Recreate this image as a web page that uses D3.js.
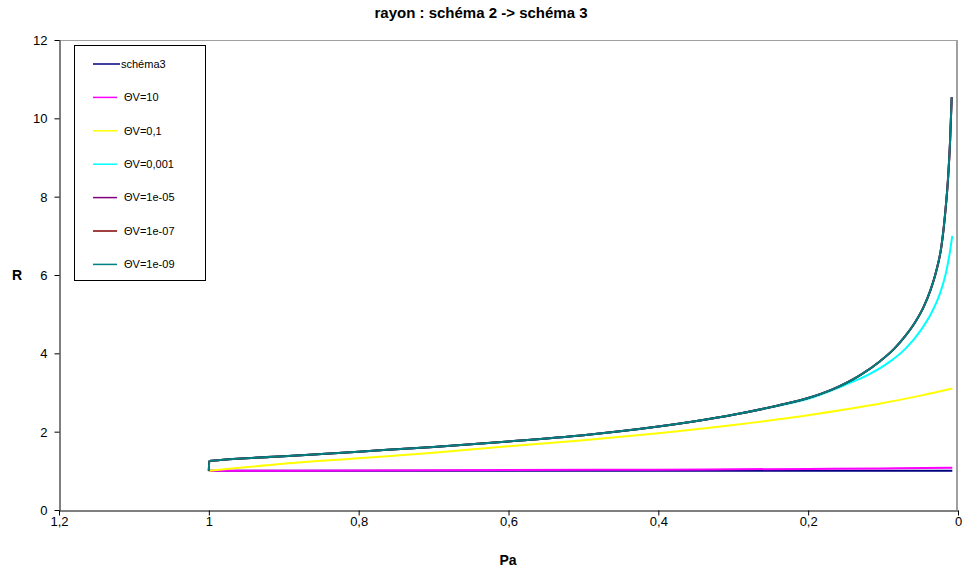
<!DOCTYPE html>
<html>
<head>
<meta charset="utf-8">
<script src="https://cdn.jsdelivr.net/npm/d3@7"></script>
<style>
  html, body { margin: 0; padding: 0; background: #fff; }
  svg { display: block; font-family: "Liberation Sans", Arial, sans-serif; }
</style>
</head>
<body>
<svg id="chart" width="963" height="576"></svg>
<script>
// ---- data ----
const chartTitle = "rayon : schéma 2 -> schéma 3";
const xTitle = "Pa";
const yTitle = "R";
const xTicks = [1.2, 1, 0.8, 0.6, 0.4, 0.2, 0];
const yTicks = [0, 2, 4, 6, 8, 10, 12];

const seriesNames = ["schéma3", " ΘV=10", " ΘV=0,1", " ΘV=0,001", " ΘV=1e-05", " ΘV=1e-07", " ΘV=1e-09"];
const seriesColors = ["#000080", "#FF00FF", "#FFFF00", "#00FFFF", "#800080", "#800000", "#008080"];

// schéma3
const paSchema3 = [1, 0.6, 0.2, 0.0076];
const rSchema3  = [1, 1, 1, 1];
// ΘV=10
const paTv10 = [1, 0.8, 0.6, 0.4, 0.2, 0.1, 0.0076];
const rTv10  = [1, 1.01, 1.02, 1.03, 1.05, 1.06, 1.08];
// ΘV=0,1
const paTv01 = [1, 0.9, 0.8, 0.7, 0.6, 0.5, 0.4, 0.3, 0.2, 0.1, 0.05, 0.0076];
const rTv01  = [1, 1.18, 1.32, 1.46, 1.63, 1.78, 1.96, 2.17, 2.42, 2.73, 2.92, 3.1];
// ΘV=0,001
const paTv0001 = [1, 0.9995, 0.9, 0.8, 0.7, 0.6, 0.5, 0.4, 0.3, 0.24, 0.2, 0.15, 0.12, 0.09, 0.07, 0.05, 0.035, 0.025, 0.017, 0.012, 0.0076];
const rTv0001  = [1, 1.25, 1.37, 1.49, 1.61, 1.75, 1.91, 2.13, 2.43, 2.66, 2.84, 3.2, 3.45, 3.80, 4.12, 4.58, 5.05, 5.48, 5.98, 6.45, 7.0];
// main curve points (ΘV = 1e-05, 1e-07, 1e-09)
const paMain = [1, 0.9995, 0.9, 0.8, 0.7, 0.6, 0.5, 0.4, 0.3, 0.24, 0.2, 0.17, 0.13, 0.104, 0.085, 0.07, 0.057, 0.046, 0.037, 0.029, 0.022, 0.017, 0.013, 0.0105, 0.0084];
const rTv1e5 = [1, 1.25, 1.37, 1.49, 1.61, 1.75, 1.91, 2.13, 2.43, 2.67, 2.86, 3.06, 3.45, 3.80, 4.12, 4.45, 4.80, 5.18, 5.6, 6.1, 6.75, 7.6, 8.55, 9.45, 10.54];
const rTv1e7 = [1, 1.25, 1.37, 1.49, 1.61, 1.75, 1.91, 2.13, 2.43, 2.67, 2.86, 3.06, 3.45, 3.80, 4.12, 4.45, 4.80, 5.18, 5.6, 6.1, 6.75, 7.6, 8.55, 9.45, 10.54];
const rTv1e9 = [1, 1.25, 1.37, 1.49, 1.61, 1.75, 1.91, 2.13, 2.43, 2.67, 2.86, 3.06, 3.45, 3.80, 4.12, 4.45, 4.80, 5.18, 5.6, 6.1, 6.75, 7.6, 8.55, 9.45, 10.54];

const seriesPa = [paSchema3, paTv10, paTv01, paTv0001, paMain, paMain, paMain];
const seriesR  = [rSchema3, rTv10, rTv01, rTv0001, rTv1e5, rTv1e7, rTv1e9];

// ---- layout ----
const svg = d3.select("#chart");
const mLeft = 59, mRight = 958, mTop = 40, mBottom = 510;

const x = d3.scaleLinear().domain([1.2, 0]).range([mLeft, mRight]);
const y = d3.scaleLinear().domain([0, 12]).range([mBottom, mTop]);

const fmt = d => String(d).replace(".", ",");

// plot frame (gray top and right)
svg.append("line").attr("x1", mLeft).attr("x2", mRight).attr("y1", mTop + 0.5).attr("y2", mTop + 0.5)
  .attr("stroke", "#a0a0a0").attr("stroke-width", 1);
svg.append("line").attr("x1", mRight - 1).attr("x2", mRight - 1).attr("y1", mTop).attr("y2", mBottom)
  .attr("stroke", "#a0a0a0").attr("stroke-width", 2);

// axes
const gx = svg.append("g").attr("transform", `translate(0,${mBottom + 0.5})`)
  .call(d3.axisBottom(x).tickValues(xTicks).tickFormat(fmt).tickSize(5).tickSizeOuter(0));
const gy = svg.append("g").attr("transform", `translate(${mLeft + 0.5},0)`)
  .call(d3.axisLeft(y).tickValues(yTicks).tickFormat(fmt).tickSize(5).tickSizeOuter(0));

[gx, gy].forEach(g => {
  g.attr("font-size", null).attr("font-family", null);
  g.select(".domain").attr("stroke", "#000").attr("stroke-width", 1);
  g.selectAll(".tick line").attr("stroke", "#000");
  g.selectAll(".tick text").attr("fill", "#000")
    .style("font-size", "13px")
    .style("font-family", "'Liberation Sans', Arial, sans-serif");
});
gx.selectAll(".tick text").attr("y", 6).attr("dy", "0.71em");
gy.selectAll(".tick text").attr("x", -12).attr("dy", "0.35em");

// lines
const line = d3.line().x(d => x(d[0])).y(d => y(d[1])).curve(d3.curveMonotoneX);
seriesNames.forEach((name, i) => {
  const pts = seriesPa[i].map((p, j) => [p, seriesR[i][j]]);
  svg.append("path").datum(pts)
    .attr("d", line)
    .attr("fill", "none")
    .attr("stroke", seriesColors[i])
    .attr("stroke-width", 2)
    .attr("stroke-linejoin", "round");
});

// titles
svg.append("text").attr("x", 481).attr("y", 18).attr("text-anchor", "middle")
  .style("font-size", "15px").attr("font-weight", "bold").text(chartTitle);
svg.append("text").attr("x", 508).attr("y", 565).attr("text-anchor", "middle")
  .style("font-size", "14px").attr("font-weight", "bold").text(xTitle);
svg.append("text").attr("x", 17).attr("y", 280).attr("text-anchor", "middle")
  .style("font-size", "14px").attr("font-weight", "bold").text(yTitle);

// legend
const lg = svg.append("g");
lg.append("rect").attr("x", 74.5).attr("y", 45.5).attr("width", 131).attr("height", 235)
  .attr("fill", "#fff").attr("stroke", "#000").attr("stroke-width", 1);
seriesNames.forEach((name, i) => {
  const yy = 64 + i * 33.4;
  lg.append("line").attr("x1", 93).attr("x2", i === 0 ? 120 : 117)
    .attr("y1", yy).attr("y2", yy)
    .attr("stroke", seriesColors[i]).attr("stroke-width", 1.5);
  lg.append("text").attr("x", 121).attr("y", yy).attr("dy", "0.35em")
    .style("font-size", "11px").attr("fill", "#000").attr("xml:space", "preserve")
    .style("white-space", "pre").text(name);
});
</script>
</body>
</html>
